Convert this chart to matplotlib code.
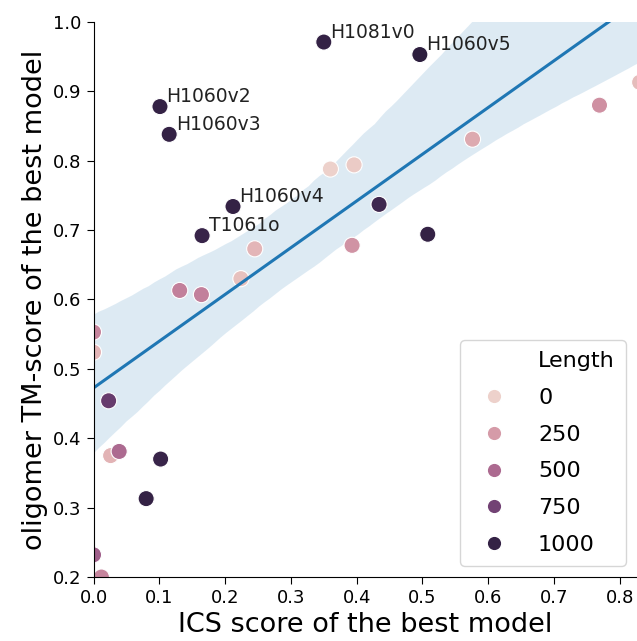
import matplotlib
matplotlib.use("Agg")
import matplotlib.pyplot as plt
from matplotlib.lines import Line2D
from matplotlib.colors import Normalize
import seaborn as sns
import numpy as np

# ICS score vs oligomer TM-score of the best model, coloured by length
ics = [0.350, 0.496, 0.101, 0.115, 0.212, 0.165, 0.434, 0.508, 0.023, 0.102, 0.080,
       0.360, 0.396, 0.245, 0.224, 0.131, 0.164, 0.393, 0.769, 0.830, 0.576,
       0.000, 0.000, 0.026, 0.039, 0.000, 0.012]
tm = [0.971, 0.953, 0.878, 0.838, 0.734, 0.692, 0.737, 0.694, 0.454, 0.370, 0.313,
      0.788, 0.794, 0.673, 0.630, 0.613, 0.607, 0.678, 0.880, 0.913, 0.831,
      0.553, 0.524, 0.375, 0.381, 0.232, 0.200]
length = [1000, 1030, 1000, 1000, 1000, 980, 950, 1000, 800, 980, 1000,
          0, 30, 130, 80, 380, 380, 290, 300, 100, 180,
          360, 130, 140, 500, 560, 360]
names = ["H1081v0", "H1060v5", "H1060v2", "H1060v3", "H1060v4", "T1061o"]

legend_levels = [0, 250, 500, 750, 1000]

cmap = sns.cubehelix_palette(as_cmap=True)
norm = Normalize(min(length), max(length))

fig = plt.figure(figsize=(6.37, 6.41), dpi=100)
ax = fig.add_axes([0.1468, 0.0998, 0.8532, 0.866])

ax.scatter(ics, tm, c=length, cmap=cmap, norm=norm, s=135,
           edgecolors="white", linewidths=0.8, zorder=2)

sns.regplot(x=np.array(ics), y=np.array(tm), scatter=False, ax=ax,
            color="#1f77b4", line_kws=dict(lw=2.2), seed=1)

for i, name in enumerate(names):
    ax.text(ics[i] + 0.01, tm[i] + 0.006, name, fontsize=13.5, color="#222222")

ax.set_xlim(0, 0.826)
ax.set_ylim(0.2, 1.0)
ax.set_xticks(np.arange(0, 0.81, 0.1))
ax.set_yticks(np.arange(0.2, 1.01, 0.1))
ax.tick_params(labelsize=13, length=5)
ax.set_xlabel("ICS score of the best model", fontsize=19.5)
ax.set_ylabel("oligomer TM-score of the best model", fontsize=19.5)
ax.spines["top"].set_visible(False)
ax.spines["right"].set_visible(False)

handles = [Line2D([], [], linestyle="", marker="")]
labels = ["Length"]
for lv in legend_levels:
    handles.append(Line2D([], [], linestyle="", marker="o", markersize=10.5,
                          markerfacecolor=cmap(norm(lv)), markeredgecolor="white"))
    labels.append(str(lv))
ax.legend(handles, labels, loc="lower right", fontsize=16, labelspacing=0.75,
          borderpad=0.5, handletextpad=1.0)

fig.savefig("out.png", dpi=100)
